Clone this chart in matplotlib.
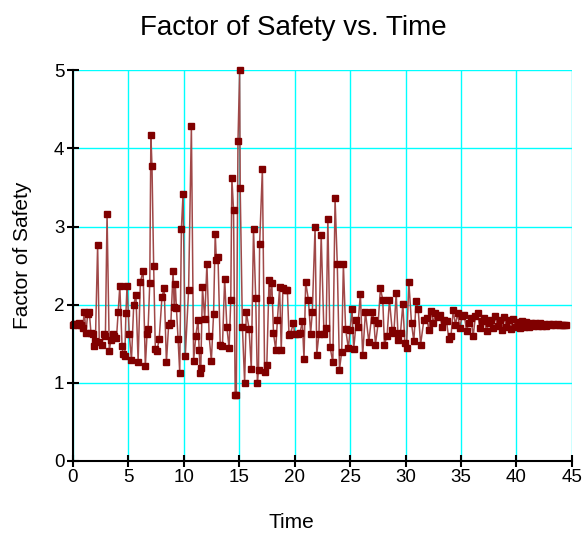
import matplotlib
matplotlib.use("Agg")
import matplotlib.pyplot as plt

plt.rcParams['font.family'] = ['Liberation Sans', 'DejaVu Sans']

title = "Factor of Safety vs. Time"
x_label = "Time"
y_label = "Factor of Safety"
x_ticks = [0, 5, 10, 15, 20, 25, 30, 35, 40, 45]
y_ticks = [0, 1, 2, 3, 4, 5]

time = [
    0.00, 0.15, 0.30, 0.45, 0.60, 0.75, 0.90, 1.05, 1.20, 1.35, 1.50, 1.65, 1.80, 1.90,
    2.05, 2.25, 2.40, 2.60, 2.80, 2.95, 3.10, 3.30, 3.45, 3.60, 3.75, 3.95, 4.10, 4.25,
    4.45, 4.55, 4.70, 4.80, 4.90, 5.10, 5.30, 5.50, 5.70, 5.90, 6.10, 6.35, 6.55, 6.70,
    6.80, 6.95, 7.05, 7.15, 7.30, 7.45, 7.60, 7.80, 8.05, 8.25, 8.45, 8.65, 8.85, 9.05,
    9.15, 9.25, 9.35, 9.50, 9.65, 9.80, 9.95, 10.15, 10.45, 10.70, 10.90, 11.10, 11.30,
    11.40, 11.50, 11.55, 11.70, 11.90, 12.10, 12.30, 12.50, 12.70, 12.85, 12.95, 13.10,
    13.30, 13.50, 13.70, 13.90, 14.10, 14.25, 14.35, 14.50, 14.65, 14.75, 14.90, 15.05,
    15.10, 15.30, 15.50, 15.65, 15.90, 16.10, 16.30, 16.50, 16.65, 16.75, 16.85, 17.10,
    17.30, 17.50, 17.70, 17.80, 17.95, 18.10, 18.30, 18.45, 18.65, 18.80, 18.95, 19.20,
    19.35, 19.50, 19.60, 19.90, 20.00, 20.30, 20.50, 20.70, 20.85, 21.00, 21.25, 21.45,
    21.60, 21.85, 22.00, 22.20, 22.40, 22.65, 22.85, 23.00, 23.20, 23.45, 23.65, 23.85,
    24.05, 24.25, 24.40, 24.60, 24.85, 25.00, 25.18, 25.33, 25.57, 25.70, 25.93, 26.14,
    26.39, 26.69, 26.99, 27.14, 27.29, 27.53, 27.74, 27.95, 28.10, 28.34, 28.55, 28.80,
    28.95, 29.16, 29.34, 29.55, 29.76, 29.94, 30.09, 30.30, 30.54, 30.75, 30.96, 31.14,
    31.36, 31.66, 31.90, 32.10, 32.30, 32.50, 32.70, 32.90, 33.10, 33.30, 33.50, 33.70,
    33.90, 34.10, 34.30, 34.50, 34.70, 34.90, 35.10, 35.30, 35.50, 35.70, 35.90, 36.10,
    36.30, 36.50, 36.70, 36.90, 37.10, 37.30, 37.50, 37.70, 37.90, 38.10, 38.30, 38.50,
    38.70, 38.90, 39.10, 39.30, 39.50, 39.70, 39.90, 40.10, 40.30, 40.50, 40.70, 40.90,
    41.10, 41.30, 41.50, 41.70, 41.90, 42.10, 42.30, 42.50, 42.70, 42.90, 43.10, 43.30,
    43.50, 43.70, 43.90, 44.10, 44.30, 44.45,
]

factor_of_safety = [
    1.74, 1.75, 1.75, 1.74, 1.76, 1.74, 1.70, 1.91, 1.64, 1.88, 1.90, 1.64, 1.62, 1.47,
    1.53, 2.76, 1.52, 1.49, 1.62, 1.60, 3.16, 1.41, 1.55, 1.63, 1.60, 1.57, 1.90, 2.24,
    1.47, 1.37, 1.34, 1.89, 2.24, 1.63, 1.29, 1.99, 2.13, 1.27, 2.29, 2.43, 1.21, 1.62,
    1.69, 2.28, 4.17, 3.77, 2.50, 1.43, 1.41, 1.56, 2.10, 2.21, 1.26, 1.74, 1.76, 2.43,
    1.97, 2.26, 1.96, 1.56, 1.13, 2.97, 3.42, 1.34, 2.19, 4.28, 1.28, 1.60, 1.81,
    1.42, 1.13, 1.19, 2.22, 1.82, 2.52, 1.60, 1.28, 1.88, 2.91, 2.57, 2.61,
    1.48, 1.47, 2.33, 1.71, 1.44, 2.06, 3.62, 3.21, 0.84, 0.85, 4.09, 5.00,
    3.49, 1.71, 1.00, 1.91, 1.69, 1.18, 2.97, 2.08, 1.00, 1.17, 2.77, 3.74,
    1.14, 1.23, 2.32, 2.06, 2.28, 1.64, 1.42, 1.80, 2.22, 1.42, 2.21, 2.19,
    2.19, 1.61, 1.62, 1.76, 1.63, 1.63, 1.64, 1.79, 1.30, 2.29, 2.06, 1.63,
    1.91, 3.00, 1.36, 1.63, 2.89, 1.63, 1.70, 3.10, 1.46, 1.26, 3.36, 2.52,
    1.17, 1.40, 2.52, 1.69, 1.44, 1.67, 1.94, 1.43, 1.80, 1.71, 2.14, 1.35,
    1.91, 1.52, 1.91, 1.81, 1.49, 1.76, 2.21, 2.06, 1.49, 1.60, 2.06, 1.67,
    1.64, 2.15, 1.55, 1.64, 2.01, 1.51, 1.45, 2.29, 1.76, 1.53, 2.05, 1.95,
    1.49, 1.81, 1.83, 1.68, 1.92, 1.77, 1.89, 1.84, 1.87, 1.72, 1.81, 1.79,
    1.56, 1.60, 1.93, 1.74, 1.89, 1.70, 1.86, 1.87, 1.66, 1.77, 1.83, 1.60,
    1.85, 1.89, 1.70, 1.79, 1.83, 1.66, 1.77, 1.81, 1.70, 1.85, 1.73, 1.81,
    1.68, 1.84, 1.71, 1.80, 1.69, 1.82, 1.72, 1.78, 1.70, 1.79, 1.71, 1.78,
    1.72, 1.77, 1.73, 1.76, 1.73, 1.76, 1.73, 1.75, 1.73, 1.75, 1.74, 1.75,
    1.74, 1.75, 1.74, 1.74, 1.74, 1.74,
]

fig = plt.figure(figsize=(5.86, 5.36), dpi=100)
ax = fig.add_axes([0.124, 0.140, 0.852, 0.729])

ax.plot(time, factor_of_safety, color='#a04848', lw=1.1, zorder=3, clip_on=False)
ax.plot(time, factor_of_safety, ls='none', marker='s', ms=5.0,
        mfc='#800000', mec='#800000', zorder=4, clip_on=False)

ax.set_xlim(0, 45)
ax.set_ylim(0, 5)
ax.set_xticks(x_ticks)
ax.set_yticks(y_ticks)
ax.grid(True, color='#00ffff', lw=1.0, zorder=0)
ax.set_axisbelow(True)

for s in ['top', 'right']:
    ax.spines[s].set_visible(False)
for s in ['left', 'bottom']:
    ax.spines[s].set_linewidth(1.5)
    ax.spines[s].set_color('black')
    ax.spines[s].set_zorder(5)

ax.tick_params(direction='inout', length=8, width=1.5, labelsize=13.5, pad=2)

fig.text(0.5, 0.948, title, fontsize=20, ha='center', va='center')
fig.text(0.498, 0.015, x_label, fontsize=15, ha='center', va='baseline')
fig.text(0.038, 0.524, y_label, fontsize=15, ha='center', va='center',
         rotation=90)

fig.savefig("out.png", dpi=100)
